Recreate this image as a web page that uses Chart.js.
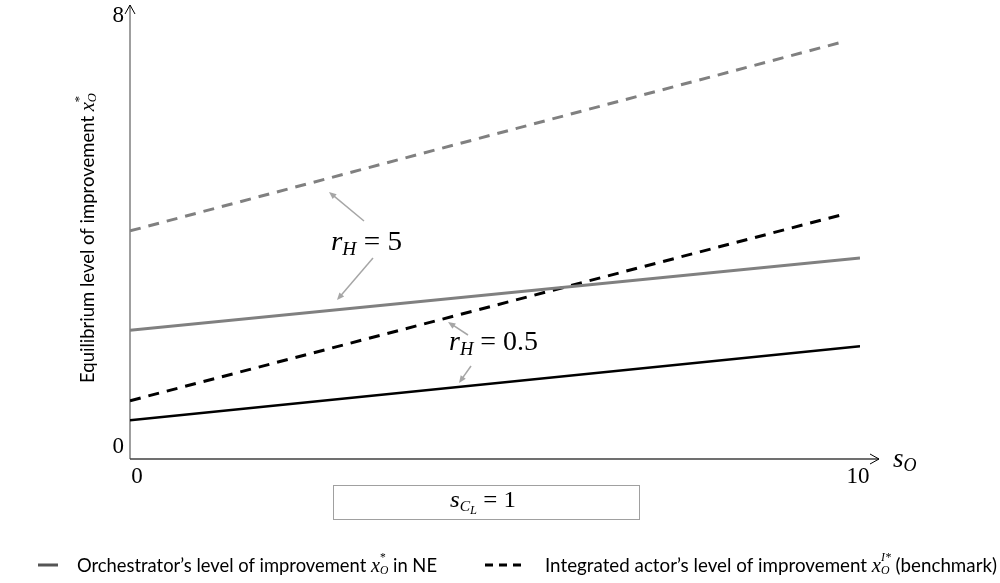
<!DOCTYPE html>
<html lang="en">
<head>
<meta charset="utf-8">
<title>Equilibrium level of improvement</title>
<script src="https://cdn.jsdelivr.net/npm/chart.js"></script>
<style>
  html, body { margin: 0; padding: 0; background: #fff; }
  #wrap { width: 1000px; height: 583px; position: relative; }
</style>
</head>
<body>
<div id="wrap"><canvas id="chart"></canvas></div>
<script>
// s_O values where each line starts / ends
const sSolid = [0, 10];
const sDashed = [0, 9.75];
// Orchestrator's level x_O* in NE
const neHigh = [2.32, 3.62];   // r_H = 5
const neLow = [0.70, 2.03];    // r_H = 0.5
// Integrated actor's level x_O^I* (benchmark)
const benchHigh = [4.11, 7.51]; // r_H = 5
const benchLow = [1.05, 4.40];  // r_H = 0.5
// axis ticks
const xTicks = ['0', '10'];
const yTicks = ['0', '8'];

const SERIF = '"Liberation Serif", "DejaVu Serif", serif';
const SANS = 'Lato, "Open Sans", sans-serif';

function pts(xs, ys) { return xs.map((v, i) => ({ x: v, y: ys[i] })); }

// draw mixed text: parts = [text, font, dy, noAdvance]
function rich(ctx, parts, x, y, align, width) {
    let total = 0;
    const ws = parts.map(p => {
        ctx.font = p[1];
        const w = ctx.measureText(p[0]).width;
        if (!p[3]) total += w;
        return w;
    });
    const sc = width ? width / total : 1;
    let start = x;
    if (align === 'center') start = x - total * sc / 2;
    else if (align === 'right') start = x - total * sc;
    ctx.save();
    ctx.translate(start, y);
    ctx.scale(sc, 1);
    ctx.textBaseline = 'middle';
    ctx.textAlign = 'left';
    let cx = 0;
    parts.forEach((p, i) => {
        ctx.font = p[1];
        ctx.fillText(p[0], cx, p[2] || 0);
        if (!p[3]) cx += ws[i];
    });
    ctx.restore();
}

function arrow(ctx, x1, y1, x2, y2, color) {
    const a = Math.atan2(y2 - y1, x2 - x1);
    ctx.save();
    ctx.strokeStyle = color;
    ctx.fillStyle = color;
    ctx.lineWidth = 1.5;
    ctx.beginPath();
    ctx.moveTo(x1, y1);
    ctx.lineTo(x2 - 5 * Math.cos(a), y2 - 5 * Math.sin(a));
    ctx.stroke();
    ctx.beginPath();
    ctx.moveTo(x2, y2);
    ctx.lineTo(x2 - 8 * Math.cos(a - 0.4), y2 - 8 * Math.sin(a - 0.4));
    ctx.lineTo(x2 - 8 * Math.cos(a + 0.4), y2 - 8 * Math.sin(a + 0.4));
    ctx.closePath();
    ctx.fill();
    ctx.restore();
}

const axesPlugin = {
    id: 'axesPlugin',
    beforeDatasetsDraw(chart) {
        const { ctx, scales: { x, y } } = chart;
        const x0 = x.getPixelForValue(0), x10 = x.getPixelForValue(10);
        const y0 = y.getPixelForValue(0), y8 = y.getPixelForValue(8);
        ctx.save();
        // y axis
        ctx.strokeStyle = '#7f7f7f';
        ctx.lineWidth = 1.5;
        ctx.beginPath();
        ctx.moveTo(x0, y0);
        ctx.lineTo(x0, y8 - 10);
        ctx.stroke();
        ctx.strokeStyle = '#000';
        ctx.lineWidth = 1;
        ctx.beginPath();
        ctx.moveTo(x0 - 5, y8 - 1);
        ctx.lineTo(x0, y8 - 10);
        ctx.lineTo(x0 + 5, y8 - 1);
        ctx.stroke();
        // x axis
        ctx.strokeStyle = '#404040';
        ctx.lineWidth = 1.5;
        ctx.beginPath();
        ctx.moveTo(x0, y0);
        ctx.lineTo(x10 + 19, y0);
        ctx.stroke();
        ctx.strokeStyle = '#000';
        ctx.lineWidth = 1;
        ctx.beginPath();
        ctx.moveTo(x10 + 10, y0 - 5);
        ctx.lineTo(x10 + 19, y0);
        ctx.lineTo(x10 + 10, y0 + 5);
        ctx.stroke();
        ctx.restore();
    },
    afterDraw(chart) {
        const { ctx, scales: { x, y } } = chart;
        const x0 = x.getPixelForValue(0), x10 = x.getPixelForValue(10);
        const y0 = y.getPixelForValue(0), y8 = y.getPixelForValue(8);
        ctx.save();
        ctx.fillStyle = '#000';
        const tickFont = '23px ' + SERIF;
        // tick labels
        rich(ctx, [[yTicks[0], tickFont]], x0 - 6, y0 - 12, 'right');
        rich(ctx, [[yTicks[1], tickFont]], x0 - 6, y8 + 1, 'right');
        rich(ctx, [[xTicks[0], tickFont]], x0 + 7, y0 + 18, 'center');
        rich(ctx, [[xTicks[1], tickFont]], x10 - 2, y0 + 18, 'center');
        // x axis title s_O
        rich(ctx, [['s', 'italic 27px ' + SERIF], ['O', 'italic 18px ' + SERIF, 6]], x10 + 33, y0 + 1, 'left');
        // y axis title
        ctx.save();
        ctx.translate(88, (y0 + y8) / 2 + 1);
        ctx.rotate(-Math.PI / 2);
        rich(ctx, [
            ['Equilibrium level of improvement ', '19px ' + SANS],
            ['x', 'italic 21px ' + SERIF],
            ['*', '13px ' + SERIF, -8, true],
            ['O', 'italic 13px ' + SERIF, 5]
        ], 0, 0, 'center', 290);
        ctx.restore();

        // annotations r_H
        const grey = '#a6a6a6';
        arrow(ctx, 364, 221, 329, 192, grey);
        arrow(ctx, 373, 258, 337, 300, grey);
        arrow(ctx, 468, 335, 448, 322, grey);
        arrow(ctx, 471, 366, 459, 383, grey);
        ctx.fillStyle = '#000';
        rich(ctx, [
            ['r', 'italic 27px ' + SERIF],
            ['H', 'italic 18px ' + SERIF, 7],
            [' = 5', '27px ' + SERIF]
        ], 331, 243, 'left', 71);
        rich(ctx, [
            ['r', 'italic 27px ' + SERIF],
            ['H', 'italic 18px ' + SERIF, 7],
            [' = 0.5', '27px ' + SERIF]
        ], 449, 343, 'left', 89);

        // parameter box
        ctx.strokeStyle = '#a0a0a0';
        ctx.lineWidth = 1;
        ctx.strokeRect(333.5, 485.5, 306, 34);
        rich(ctx, [
            ['s', 'italic 24px ' + SERIF],
            ['C', 'italic 15px ' + SERIF, 6],
            ['L', 'italic 12px ' + SERIF, 10],
            [' = 1', '24px ' + SERIF]
        ], 450, 501, 'left', 66);

        // legend
        ctx.lineWidth = 3;
        ctx.strokeStyle = '#555';
        ctx.beginPath();
        ctx.moveTo(38, 565);
        ctx.lineTo(58, 565);
        ctx.stroke();
        ctx.strokeStyle = '#000';
        ctx.setLineDash([8, 6]);
        ctx.beginPath();
        ctx.moveTo(485, 565);
        ctx.lineTo(527, 565);
        ctx.stroke();
        ctx.setLineDash([]);
        rich(ctx, [
            ['Orchestrator\u2019s level of improvement ', '19px ' + SANS],
            ['x', 'italic 21px ' + SERIF],
            ['*', '12px ' + SERIF, -8, true],
            ['O', 'italic 12px ' + SERIF, 5],
            [' in NE', '19px ' + SANS]
        ], 77, 566, 'left', 360);
        rich(ctx, [
            ['Integrated actor\u2019s level of improvement ', '19px ' + SANS],
            ['x', 'italic 21px ' + SERIF],
            ['I*', 'italic 12px ' + SERIF, -8, true],
            ['O  ', 'italic 12px ' + SERIF, 5],
            ['(benchmark)', '19px ' + SANS]
        ], 545, 566, 'left', 452);
        ctx.restore();
    }
};

new Chart(document.getElementById('chart'), {
    type: 'line',
    data: {
        datasets: [
            { label: 'benchmark r_H = 5', data: pts(sDashed, benchHigh), borderColor: '#808080', borderWidth: 3, borderDash: [11, 8] },
            { label: 'NE r_H = 5', data: pts(sSolid, neHigh), borderColor: '#808080', borderWidth: 3 },
            { label: 'benchmark r_H = 0.5', data: pts(sDashed, benchLow), borderColor: '#000', borderWidth: 3, borderDash: [11, 8] },
            { label: 'NE r_H = 0.5', data: pts(sSolid, neLow), borderColor: '#000', borderWidth: 2.5 }
        ]
    },
    options: {
        responsive: true,
        maintainAspectRatio: false,
        animation: false,
        layout: { padding: { left: 130, right: 140, top: 15, bottom: 124 } },
        elements: { point: { radius: 0 }, line: { tension: 0, borderCapStyle: 'butt' } },
        plugins: { legend: { display: false }, tooltip: { enabled: false } },
        scales: {
            x: { type: 'linear', min: 0, max: 10, display: false },
            y: { type: 'linear', min: 0, max: 8, display: false }
        }
    },
    plugins: [axesPlugin]
});
</script>
</body>
</html>
